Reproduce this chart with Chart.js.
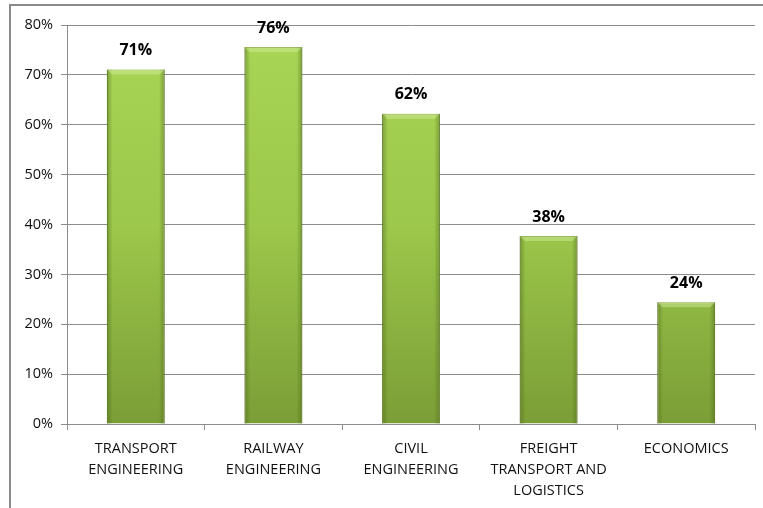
<!DOCTYPE html>
<html>
<head>
<meta charset="utf-8">
<script src="https://cdn.jsdelivr.net/npm/chart.js@4/dist/chart.umd.min.js"></script>
<style>
  html, body { margin: 0; padding: 0; background: #fff; overflow: hidden; }
  #wrap { position: relative; width: 763px; height: 508px; }
  #frame { position: absolute; left: 9px; top: 4px; width: 800px; height: 600px; border: 2px solid #8a8a8a; box-sizing: border-box; }
  #chart { position: absolute; left: 0; top: 0; }
</style>
</head>
<body>
<div id="wrap">
  <div id="frame"></div>
  <canvas id="chart" width="763" height="508"></canvas>
</div>
<script>
const categories = [
  ["TRANSPORT", "ENGINEERING"],
  ["RAILWAY", "ENGINEERING"],
  ["CIVIL", "ENGINEERING"],
  ["FREIGHT", "TRANSPORT AND", "LOGISTICS"],
  ["ECONOMICS"]
];
const shares = [71.1, 75.6, 62.2, 37.7, 24.4];
const shareLabels = ["71%", "76%", "62%", "38%", "24%"];
const yTicks = [0, 10, 20, 30, 40, 50, 60, 70, 80];

const fontFamily = "'Open Sans', 'Liberation Sans', sans-serif";

// bevelled green bars, Excel style
function barFill(context) {
  const chart = context.chart;
  const area = chart.chartArea;
  if (!area) return "#9bc64a";
  const g = chart.ctx.createLinearGradient(0, area.top, 0, area.bottom);
  g.addColorStop(0, "#a9d656");
  g.addColorStop(0.5, "#9cc84b");
  g.addColorStop(1, "#7b9d36");
  return g;
}

const bevelPlugin = {
  id: "bevel",
  afterDatasetsDraw(chart) {
    const ctx = chart.ctx;
    chart.getDatasetMeta(0).data.forEach(bar => {
      const w = bar.width;
      const left = bar.x - w / 2;
      const top = bar.y;
      const bottom = bar.base;
      ctx.save();
      const g = ctx.createLinearGradient(left, 0, left + w, 0);
      g.addColorStop(0, "rgba(70,95,20,0.45)");
      g.addColorStop(0.1, "rgba(70,95,20,0.0)");
      g.addColorStop(0.9, "rgba(70,95,20,0.0)");
      g.addColorStop(1, "rgba(70,95,20,0.45)");
      ctx.fillStyle = g;
      ctx.fillRect(left, top, w, bottom - top);
      ctx.fillStyle = "rgba(215,240,160,0.45)";
      ctx.beginPath();
      ctx.moveTo(left, top);
      ctx.lineTo(left + w, top);
      ctx.lineTo(left + w - 5, top + 5);
      ctx.lineTo(left + 5, top + 5);
      ctx.closePath();
      ctx.fill();
      ctx.restore();
    });
  }
};

const valueLabels = {
  id: "valueLabels",
  afterDatasetsDraw(chart) {
    const ctx = chart.ctx;
    ctx.save();
    ctx.font = "bold 16px " + fontFamily;
    ctx.fillStyle = "#000";
    ctx.textAlign = "center";
    ctx.textBaseline = "middle";
    chart.getDatasetMeta(0).data.forEach((bar, i) => {
      ctx.fillText(shareLabels[i], bar.x, bar.y - 19);
    });
    ctx.restore();
  }
};

new Chart(document.getElementById("chart"), {
  type: "bar",
  data: {
    labels: categories,
    datasets: [{
      data: shares,
      backgroundColor: barFill,
      borderColor: "#6f8f2c",
      borderWidth: 1,
      categoryPercentage: 0.42,
      barPercentage: 1
    }]
  },
  options: {
    responsive: false,
    animation: false,
    devicePixelRatio: 1,
    layout: { padding: { left: 12, right: 8, top: 25, bottom: 0 } },
    plugins: { legend: { display: false }, tooltip: { enabled: false } },
    scales: {
      x: {
        grid: { display: true, drawOnChartArea: false, offset: true, color: "#8c8c8c", tickLength: 6 },
        border: { color: "#8c8c8c" },
        ticks: { color: "#111", font: { family: fontFamily, size: 14.5, lineHeight: 1.45 }, padding: 8, maxRotation: 0, autoSkip: false },
        afterFit(scale) { scale.height = 84; }
      },
      y: {
        min: 0,
        max: 80,
        afterBuildTicks(scale) { scale.ticks = yTicks.map(v => ({ value: v })); },
        grid: { color: "#8c8c8c", tickLength: 6 },
        border: { color: "#8c8c8c" },
        ticks: {
          color: "#111",
          font: { family: fontFamily, size: 14.5 },
          padding: 8,
          callback: v => v + "%"
        },
        afterFit(scale) { scale.width = 55; }
      }
    }
  },
  plugins: [bevelPlugin, valueLabels]
});
</script>
</body>
</html>
